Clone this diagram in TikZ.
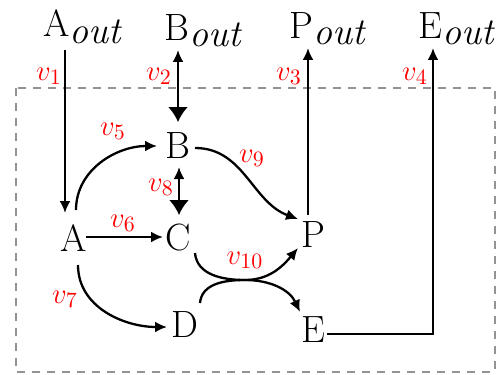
\documentclass[tikz,border=0pt]{standalone}
\usetikzlibrary{arrows.meta,calc}
\begin{document}
\begin{tikzpicture}[x=0.5pt,y=-0.5pt,
  every node/.style={inner sep=0pt},
  main/.style={font=\fontsize{19}{22}\selectfont},
  outn/.style={font=\fontsize{19}{22}\selectfont,anchor=base west},
  lab/.style={text=red,font=\fontsize{15.5}{18}\selectfont},
  conn/.style={line width=1.15pt,-{Latex[length=6pt,width=5.5pt]}},
  dconn/.style={line width=1.15pt,{Latex[length=6pt,width=5.5pt]}-{Latex[length=7.5pt,width=10pt]}},
  frame/.style={draw=gray!85,line width=1pt,dash pattern=on 4pt off 3.5pt}]
\useasboundingbox (0,0) rectangle (496,374);
\draw[frame] (15.5,88) rectangle (494.5,371.5);
% outer nodes
\node[outn] (Aout) at (43,37) {A\raisebox{-3.5pt}{\fontsize{19}{20}\selectfont\itshape out}};
\node[outn] (Bout) at (164,40) {B\raisebox{-3pt}{\fontsize{19}{20}\selectfont\itshape out}};
\node[outn] (Pout) at (289,39) {P\raisebox{-3pt}{\fontsize{19}{20}\selectfont\itshape out}};
\node[outn] (Eout) at (418,39) {E\raisebox{-3pt}{\fontsize{19}{20}\selectfont\itshape out}};
% inner nodes
\node[main] (A) at (74,238) {A};
\node[main] (B) at (178,146) {B};
\node[main] (C) at (178,238) {C};
\node[main] (P) at (313,235) {P};
\node[main] (D) at (185,325) {D};
\node[main] (E) at (313,330) {E};
% free ends
\coordinate (v1top) at (65,50);
\coordinate (v2top) at (178,50);
\coordinate (v3top) at (308,48);
\coordinate (v4top) at (433,48);
\coordinate (j) at (245,280);
% connectors
\draw[conn] (v1top) -- ($(A)+(-9,-25)$);
\draw[dconn] (v2top) -- ($(B)+(0,-24)$);
\draw[conn] ($(P)+(-5,-20)$) -- (v3top);
\draw[conn] ($(E)+(14,4)$) -| (v4top);
\draw[conn] ($(A)+(2,-28)$) to[out=90,in=180] ($(B)+(-21,0)$);
\draw[conn] ($(A)+(12,-1)$) -- ($(C)+(-15,-1)$);
\draw[conn] ($(A)+(4,27)$) to[out=-90,in=180] ($(D)+(-18,2)$);
\draw[dconn] ($(B)+(1,21)$) -- ($(C)+(1,-23)$);
\draw[conn] ($(B)+(17,2)$) to[out=0,in=160] ($(P)+(-15,-16)$);
\draw[conn] ($(C)+(17,15)$) to[out=-85,in=180] (j) to[out=0,in=230] ($(P)+(-15,13)$);
\draw[conn] ($(D)+(15,-22)$) to[out=85,in=180] (j) to[out=0,in=115] ($(E)+(-13,-18)$);
% labels
\node[lab] (l1) at (49,76) {$v_{1}$};
\node[lab] (l2) at (159,76) {$v_{2}$};
\node[lab] (l3) at (289,76) {$v_{3}$};
\node[lab] (l4) at (415,76) {$v_{4}$};
\node[lab] (l5) at (113,131) {$v_{5}$};
\node[lab] (l6) at (123,223) {$v_{6}$};
\node[lab] (l7) at (65,299) {$v_{7}$};
\node[lab] (l8) at (161,187) {$v_{8}$};
\node[lab] (l9) at (252,158) {$v_{9}$};
\node[lab] (l10) at (245,260) {$v_{10}$};
\end{tikzpicture}
\end{document}
